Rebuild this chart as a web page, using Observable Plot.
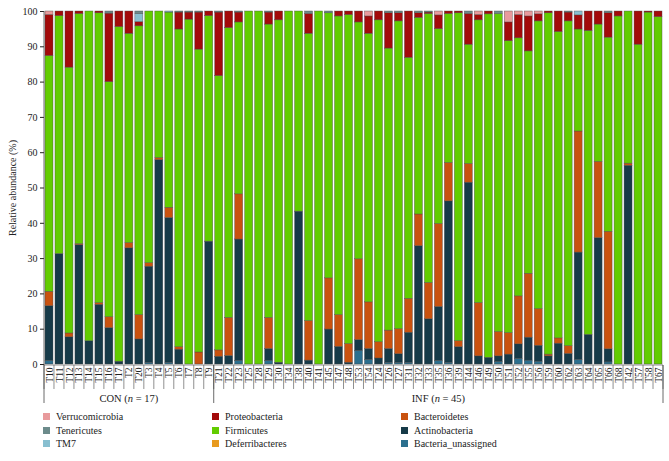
<!DOCTYPE html>
<html><head><meta charset="utf-8">
<script src="https://cdn.jsdelivr.net/npm/d3@7"></script>
<script src="https://cdn.jsdelivr.net/npm/@observablehq/plot@0.6"></script>
<style>
body{margin:0;background:#fff;font-family:"Liberation Serif",serif;}
#chart{position:relative;width:669px;height:461px;overflow:hidden;}
#chart svg{display:block;}
.legend{position:absolute;left:0;top:410px;width:669px;height:51px;}
.li{position:absolute;font-size:10px;color:#222;line-height:10px;white-space:nowrap;}
.sw{position:absolute;width:7px;height:7px;top:1px;}
</style></head><body><div id="chart"></div>
<script>
const samples = ["T10","T11","T12","T13","T14","T15","T16","T17","T2","T20","T3","T4","T5","T6","T7","T8","T9",
  "T21","T22","T23","T25","T28","T29","T30","T34","T38","T40","T41","T45","T47","T48","T53","T54","T24","T26","T27","T31","T32","T33","T35","T36","T39","T44","T46","T49","T50","T51","T52","T55","T56","T59","T60","T62","T63","T64","T65","T66","T68","T42","T57","T58","T67"];
const groupNames = ["CON", "INF"];
const groupSizes = [17, 45];
const phyla = ["Bacteria_unassigned","Actinobacteria","Bacteroidetes","Deferribacteres","Firmicutes","Proteobacteria","TM7","Tenericutes","Verrucomicrobia"];
const phylaColors = ["#2b6f8e","#163a48","#c9520f","#e89a1e","#62cc00","#a30a0a","#88bfd0","#6c8b8b","#e89a9c"];

const bacteriaUnassigned = [1.0,0,0,0,0,0,0,0,0,0,0.5,0,0.5,0,0,0,0,
  0,0,1.0,0,0,1.0,0,0,0,0,0,0,0,0,3.8,1.3,0,0.5,0.5,0.5,0,0,1.0,0.5,0,0,0,0,0.7,0,1.6,1.1,0.8,0,0,0,1.3,0,0,0.6,0,0,0,0,0];
const actinobacteria = [15.5,31.3,7.7,33.8,6.6,16.9,10.3,0.8,32.9,7.1,27.2,57.9,41.0,4.2,0,0,34.8,
  2.2,2.4,34.4,0,0,3.4,0.5,0,43.3,1.1,0,9.9,5.0,0.5,3.1,3.1,1.7,3.9,2.4,8.5,33.5,12.8,15.3,45.7,4.9,51.5,2.3,1.9,1.6,2.8,4.1,6.5,4.5,2.3,5.9,3.0,30.4,8.4,35.8,3.7,0,56.3,0,0,0];
const bacteroidetes = [4.1,0,1.1,0.3,0,0.5,3.1,0,1.5,6.9,1.0,0.6,2.9,0.7,0,3.4,0,
  1.8,10.8,12.8,0,0,8.8,0,0,0,11.2,0,14.5,9.0,5.3,22.9,13.2,4.6,5.2,7.1,9.6,9.0,10.3,23.5,10.9,1.7,5.3,15.1,0,6.9,6.1,13.6,18.1,10.4,0.5,1.5,2.2,34.3,0,21.6,33.3,0,0.6,0,0,0];
const deferribacteres = [0,0,0,0,0,0,0,0,0,0,0,0,0,0,0,0,0,
  0,0,0,0,0,0,0,0,0,0,0,0,0,0,0,0,0,0,0,0,0,0,0,0,0,0,0,0,0,0,0,0,0,0,0,0,0,0,0,0,0,0,0,0,0];
const firmicutes = [66.8,67.4,75.3,65.2,93.4,82.1,66.6,94.8,59.3,81.8,71.3,41.5,55.3,90.0,97.7,85.8,63.9,
  77.7,82.1,48.7,100,100,83.1,97.0,100,56.7,81.4,100,75.1,84.6,93.2,67.1,76.1,91.2,79.9,87.2,68.3,55.7,76.2,55.2,42.2,92.9,33.8,80.1,97.3,90.1,82.7,73.1,63.0,81.5,96.7,86.8,92.0,28.9,86.1,38.9,55.0,98.6,43.1,90.6,99.7,98.4];
const proteobacteria = [11.6,1.3,15.9,0.7,0,0.5,19.4,4.4,6.3,1.2,0,0,0,4.8,2.0,10.5,1.3,
  18.0,4.7,2.8,0,0,3.4,2.5,0,0,5.6,0,0,1.4,1.0,3.1,4.9,2.5,10.0,2.3,13.1,1.3,0.4,3.9,0.7,0.5,8.7,1.5,0.8,0,5.3,6.6,9.9,2.0,0.5,5.8,2.5,4.0,5.5,3.7,6.9,1.4,0,9.4,0.3,1.6];
const tm7 = [0,0,0,0,0,0,0,0,0,2.3,0,0,0.3,0,0,0,0,
  0,0,0,0,0,0,0,0,0,0,0,0,0,0,0,0,0,0,0,0,0,0,0,0,0,0,0,0,0,0,0,0,0,0,0,0,1.1,0,0,0,0,0,0,0,0];
const tenericutes = [0,0,0,0,0,0,0.6,0,0,0.7,0,0,0,0.3,0.3,0.3,0,
  0.3,0,0.3,0,0,0.3,0,0,0,0.7,0,0.5,0,0,0,0,0,0.5,0.5,0,0.5,0.3,0,0,0,0.7,0,0,0.7,0,0,0,0,0,0,0.3,0,0,0,0.5,0,0,0,0,0];
const verrucomicrobia = [1.0,0,0,0,0,0,0,0,0,0,0,0,0,0,0,0,0,
  0,0,0,0,0,0,0,0,0,0,0,0,0,0,0,1.4,0,0,0,0,0,0,1.1,0,0,0,1.0,0,0,3.1,1.0,1.4,0.8,0,0,0,0,0,0,0,0,0,0,0,0];

const series = [bacteriaUnassigned, actinobacteria, bacteroidetes, deferribacteres, firmicutes, proteobacteria, tm7, tenericutes, verrucomicrobia];
const data = [];
samples.forEach((s, i) => phyla.forEach((p, j) => { if (series[j][i] > 0) data.push({sample: s, phylum: p, value: series[j][i]}); }));

const serif = "'Liberation Serif', 'Times New Roman', serif";
const plot = Plot.plot({
  width: 669, height: 410,
  marginLeft: 44, marginRight: 6, marginTop: 11, marginBottom: 46,
  style: {fontFamily: serif, fontSize: "10px", color: "#222", background: "#fff"},
  x: {domain: samples, paddingInner: 0.2, paddingOuter: 0.1, label: null},
  y: {domain: [0, 100], label: null},
  color: {domain: phyla, range: phylaColors},
  marks: [
    Plot.barY(data, {x: "sample", y: "value", fill: "phylum", order: phyla, stroke: "#4a4a4a", strokeWidth: 0.5, strokeOpacity: 0.8}),
    Plot.axisY({ticks: d3.range(0, 101, 10), tickSize: 4, tickPadding: 3, label: "Relative abundance (%)", labelAnchor: "center", labelOffset: 36, labelArrow: "none"}),
    Plot.axisX({tickRotate: -90, tickSize: 0, tickPadding: 3, fontSize: 9.5, label: null})
  ]
});

document.getElementById("chart").appendChild(plot);

// axis lines, label separators and group brackets from the plot's own scales
const xs = plot.scale("x");
const ys = plot.scale("y");
const step = xs.step, bw = xs.bandwidth;
const left = d => xs.apply(d) - (step - bw) / 2;
const yBase = ys.apply(0) + 1;
const yTop = ys.apply(100);
const svg = d3.select(plot);
const g = svg.append("g").attr("stroke", "#444").attr("stroke-width", 0.8).attr("fill", "none");
g.append("line").attr("x1", left(samples[0])).attr("x2", left(samples[0])).attr("y1", yTop).attr("y2", yBase);
const xEnd = left(samples[samples.length - 1]) + step;
g.append("line").attr("x1", left(samples[0])).attr("x2", xEnd).attr("y1", yBase).attr("y2", yBase).attr("stroke-width", 0.6);
samples.forEach(s => {
  g.append("line").attr("x1", left(s)).attr("x2", left(s)).attr("y1", yBase).attr("y2", yBase + 24).attr("stroke-width", 0.6);
});
g.append("line").attr("x1", xEnd).attr("x2", xEnd).attr("y1", yBase).attr("y2", yBase + 24).attr("stroke-width", 0.6);
let start = 0;
const bounds = [left(samples[0])];
groupSizes.forEach(n => { start += n; bounds.push(start < samples.length ? left(samples[start]) : xEnd); });
bounds.forEach(b => g.append("line").attr("x1", b).attr("x2", b).attr("y1", yBase).attr("y2", yBase + 38));
groupNames.forEach((name, i) => {
  const t = svg.append("text").attr("x", (bounds[i] + bounds[i + 1]) / 2).attr("y", yBase + 37)
    .attr("text-anchor", "middle").attr("font-family", serif).attr("font-size", 10.5).attr("fill", "#222");
  t.append("tspan").text(name + " (");
  t.append("tspan").attr("font-style", "italic").text("n");
  t.append("tspan").text(" = " + groupSizes[i] + ")");
});

// legend
const legendOrder = ["Verrucomicrobia","Tenericutes","TM7","Proteobacteria","Firmicutes","Deferribacteres","Bacteroidetes","Actinobacteria","Bacteria_unassigned"];
const colX = [43, 212, 401];
const rowY = [7, 20.5, 34];
const leg = document.createElement("div");
leg.className = "legend";
legendOrder.forEach((p, k) => {
  const c = Math.floor(k / 3), r = k % 3;
  const item = document.createElement("div");
  item.className = "li";
  item.style.left = colX[c] + "px";
  item.style.top = (rowY[r] - 5) + "px";
  const sw = document.createElement("span");
  sw.className = "sw";
  sw.style.left = "0px";
  sw.style.background = phylaColors[phyla.indexOf(p)];
  const tx = document.createElement("span");
  tx.style.marginLeft = "13px";
  tx.textContent = p;
  item.appendChild(sw); item.appendChild(tx);
  leg.appendChild(item);
});
document.getElementById("chart").appendChild(leg);
</script></body></html>
